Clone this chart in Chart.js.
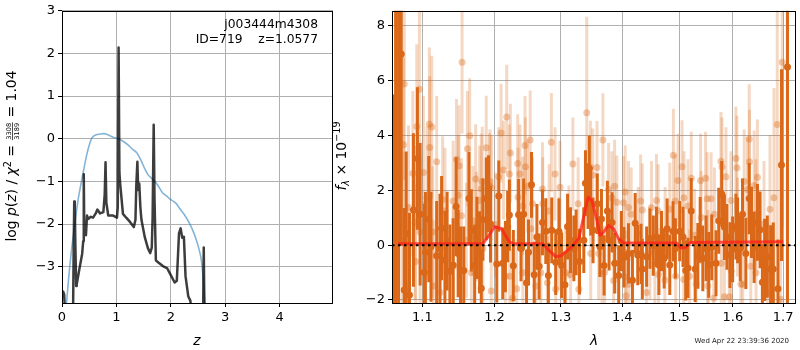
<!DOCTYPE html>
<html>
<head>
<meta charset="utf-8">
<script src="https://cdn.jsdelivr.net/npm/chart.js@4.4.1/dist/chart.umd.min.js"></script>
<style>
  body { margin: 0; background: #fff; width: 800px; height: 350px; position: relative; overflow: hidden; }
  #pz { position: absolute; left: 0; top: 0; }
  #spec { position: absolute; left: 330px; top: 0; }
</style>
</head>
<body>
<canvas id="pz" width="340" height="350"></canvas>
<canvas id="spec" width="470" height="350"></canvas>
<script>
// ---- p(z) panel ----
const zTicks = [0, 1, 2, 3, 4];
const logpTicks = [-3, -2, -1, 0, 1, 2, 3];

const pzZ = [0.0, 0.02, 0.04, 0.06, 0.2, 0.215, 0.225, 0.235, 0.245, 0.26, 0.27, 0.32, 0.37, 0.39, 0.40, 0.41, 0.44, 0.46,
  0.48, 0.53, 0.57, 0.62, 0.65, 0.7, 0.76, 0.785, 0.80, 0.815, 0.85, 0.94, 1.01, 1.025, 1.04, 1.055, 1.07, 1.12,
  1.18, 1.25, 1.32, 1.35, 1.365, 1.385, 1.40, 1.42, 1.44, 1.46, 1.52, 1.58, 1.62, 1.65, 1.665, 1.685, 1.70, 1.725,
  1.77, 1.86, 1.93, 1.98, 2.07, 2.11, 2.15, 2.18, 2.21, 2.24, 2.27, 2.32, 2.36, 2.39, 2.59, 2.605, 2.62];
const pzLogp = [-3.6, -3.58, -3.65, -4.2, -4.5, -2.5, -1.47, -1.55, -2.45, -3.45, -3.42, -3.05, -2.7, -2.4, -0.83, -2.2, -2.26, -1.8,
  -1.88, -1.83, -1.85, -1.75, -1.66, -1.75, -1.72, -1.3, -0.55, -1.5, -1.8, -1.8, -1.85, -1.6, 2.14, -0.8, -1.07, -1.76,
  -1.85, -1.95, -2.07, -1.9, -1.1, -0.54, -1.2, -1.05, -1.6, -1.9, -2.3, -2.57, -2.68, -2.55, -1.85, 0.33, -1.4, -2.85,
  -2.9, -2.99, -3.03, -3.15, -3.37, -3.33, -2.22, -2.1, -2.32, -2.3, -3.22, -3.69, -3.8, -4.5, -4.5, -2.55, -4.5];

const priorZ = [0.08, 0.12, 0.15, 0.2, 0.25, 0.3, 0.35, 0.4, 0.45, 0.5, 0.55, 0.62, 0.7, 0.77, 0.85, 0.95, 1.03, 1.1, 1.2,
  1.3, 1.37, 1.45, 1.52, 1.58, 1.65, 1.75, 1.85, 1.92, 1.98, 2.05, 2.1, 2.16, 2.25, 2.35, 2.42, 2.47, 2.52, 2.56, 2.6, 2.63];
const priorLogp = [-3.9, -3.3, -2.9, -2.35, -1.85, -1.4, -1.05, -0.72, -0.4, -0.15, 0.02, 0.09, 0.11, 0.12, 0.09, 0.03, 0.0, -0.04, -0.13,
  -0.25, -0.32, -0.5, -0.7, -0.84, -0.93, -1.07, -1.27, -1.34, -1.41, -1.47, -1.52, -1.63, -1.78, -2.0, -2.2, -2.38, -2.6, -2.84, -3.37, -3.95];

const fieldName = 'j003444m4308';
const objId = 719;
const zBest = '1.0577';

// ---- spectrum panel ----
const waveTicks = [1.1, 1.2, 1.3, 1.4, 1.5, 1.6, 1.7];
const fluxTicks = [-2, 0, 2, 4, 6, 8];

const darkWave = [1.0625, 1.0650, 1.0688, 1.0723, 1.0762, 1.0787, 1.0830, 1.0882, 1.0934, 1.0970, 1.1026, 1.1040, 1.1085, 1.1115,
  1.1191, 1.1236, 1.1258, 1.1303, 1.1333, 1.1371, 1.1416, 1.1457, 1.1485, 1.1518, 1.1563, 1.1636, 1.1669, 1.1716, 1.1748,
  1.1786, 1.1810, 1.1833, 1.1881, 1.1914, 1.1942, 1.2033, 1.2062, 1.2120, 1.2159, 1.2192, 1.2217, 1.2276, 1.2354, 1.2390,
  1.2429, 1.2473, 1.2503, 1.2548, 1.2589, 1.2630, 1.2664, 1.2715, 1.2766, 1.2806, 1.2858, 1.2920, 1.2971, 1.3013, 1.3064,
  1.3106, 1.3153, 1.3206, 1.3242, 1.3296, 1.3365, 1.3392, 1.3434, 1.3455, 1.3477, 1.3515, 1.3584, 1.3627, 1.3653, 1.3697,
  1.3751, 1.3779, 1.3829, 1.3873, 1.3940, 1.3984, 1.4030, 1.4105, 1.4173, 1.4220, 1.4264, 1.4321, 1.4343, 1.4418, 1.4475,
  1.4534, 1.4591, 1.4633, 1.4679, 1.4726, 1.4779, 1.4826, 1.4885, 1.4926, 1.5005, 1.5065, 1.5114, 1.5155, 1.5215, 1.5288,
  1.5337, 1.5380, 1.5429, 1.5490, 1.5540, 1.5596, 1.5677, 1.5728, 1.5785, 1.5836, 1.5885, 1.5943, 1.5994, 1.6058, 1.6090,
  1.6142, 1.6186, 1.6251, 1.6317, 1.6362, 1.6415, 1.6480, 1.6533, 1.6579, 1.6624, 1.6678, 1.6744, 1.6798, 1.6893, 1.6966, 1.7088];
const darkFlux = [1.5, 2.0, 2.7, 6.97, -1.64, 0.42, -1.82, 1.28, 3.16, 1.13, -0.99, -0.26, 0.95, -0.06,
  -0.39, -0.12, 0.62, -0.54, 0.15, -0.95, -0.72, 1.41, -0.3, -0.92, -0.92, 1.7, 0.54, -0.75, 0.27,
  -0.26, -1.57, 0.93, 1.7, 1.88, 0.77, -0.69, 1.79, -0.66, -0.42, 0.68, 1.1, -0.75, 1.11, -0.12,
  1.13, -1.37, -0.26, 2.2, -1.08, 0.3, -0.77, 0.83, 0.51, -1.11, 0.54, -0.62, 0.5, -0.74, -1.44,
  0.68, 0.18, -0.12, 0.1, -0.6, 0.18, 2.26, 1.79, 2.8, 1.55, 0.54, 1.51, -0.06, 0.95, -0.74,
  1.25, 0.18, 0.83, -0.66, -1.11, 0.15, -0.44, -0.3, -1.28, 0.8, -0.36, -0.32, -0.87, -0.42, 0.24,
  -0.02, 0.3, -0.72, 0.15, -0.48, 0.6, -0.72, 0.5, -0.12, 0.51, 0.3, -0.92, -0.83, 1.25, -0.87,
  -0.39, 0.56, -0.48, -0.12, -0.72, -0.08, -0.66, 0.89, 1.87, 0.66, 0.3, -0.36, -0.15, 0.68, 0.54,
  -0.12, 1.13, -0.3, 1.7, 0.83, -0.08, 0.83, 0.56, -1.35, -0.54, -0.42, -0.87, -0.87, -1.59, 2.92, 6.5];
const darkErr = [4.0, 9.0, 9.0, 7.0, 3.0, 3.0, 3.0, 2.8, 2.6, 2.6, 2.5, 2.2, 2.3, 2.0,
  2.0, 2.0, 1.9, 1.8, 1.8, 1.7, 1.7, 1.8, 1.6, 1.6, 1.6, 1.7, 1.5, 1.5, 1.5,
  1.5, 1.4, 1.5, 1.5, 1.4, 1.4, 1.4, 1.3, 1.3, 1.3, 1.3, 1.3, 1.3, 1.3, 1.2,
  1.3, 1.2, 1.2, 1.2, 1.2, 1.2, 1.2, 1.2, 1.2, 1.2, 1.2, 1.2, 1.2, 1.2, 1.2,
  1.2, 1.2, 1.2, 1.2, 1.2, 1.2, 1.2, 1.2, 1.2, 1.2, 1.2, 1.1, 1.1, 1.1, 1.1,
  1.1, 1.1, 1.1, 1.1, 1.1, 1.1, 1.1, 1.1, 1.1, 1.1, 1.1, 1.1, 1.1, 1.1, 1.1,
  1.1, 1.1, 1.1, 1.1, 1.1, 1.1, 1.1, 1.1, 1.1, 1.1, 1.1, 1.1, 1.1, 1.2, 1.2,
  1.2, 1.2, 1.2, 1.2, 1.2, 1.2, 1.2, 1.2, 1.2, 1.2, 1.2, 1.2, 1.2, 1.2, 1.2,
  1.2, 1.3, 1.3, 1.3, 1.3, 1.3, 1.4, 1.4, 1.4, 1.5, 1.5, 1.6, 1.7, 1.8, 3.5, 12];

const lightWave = [1.0732, 1.0753, 1.0762, 1.0796, 1.0817, 1.0874, 1.0904, 1.0910, 1.0926, 1.0961, 1.0970, 1.1014, 1.1020,
  1.1060, 1.1093, 1.1098, 1.1125, 1.1138, 1.1146, 1.1191, 1.1236, 1.1272, 1.1303, 1.1416, 1.1420, 1.1462, 1.1485, 1.1498,
  1.1531, 1.1540, 1.1600, 1.1614, 1.1646, 1.1670, 1.1692, 1.1730, 1.1740, 1.1786, 1.1810, 1.1824, 1.1833, 1.1881, 1.1928,
  1.1935, 1.1953, 1.1958, 1.2014, 1.2062, 1.2096, 1.2130, 1.2159, 1.2178, 1.2217, 1.2222, 1.2232, 1.2266, 1.2325, 1.2340,
  1.2345, 1.2375, 1.2414, 1.2418, 1.2450, 1.2455, 1.2488, 1.2528, 1.2539, 1.2563, 1.2614, 1.2690, 1.2715, 1.2720, 1.2791,
  1.2817, 1.2852, 1.2909, 1.2920, 1.2971, 1.2987, 1.3075, 1.3127, 1.3154, 1.3190, 1.3274, 1.3285, 1.3413, 1.3472, 1.3477,
  1.3510, 1.3580, 1.3607, 1.3661, 1.3677, 1.3705, 1.3771, 1.3826, 1.3854, 1.3871, 1.3909, 1.4021, 1.4050, 1.4055, 1.4065,
  1.4105, 1.4110, 1.4151, 1.4274, 1.4313, 1.4343, 1.4416, 1.4475, 1.4503, 1.4562, 1.4590, 1.4620, 1.4625, 1.4738, 1.4743,
  1.4826, 1.4891, 1.4926, 1.4931, 1.4975, 1.5047, 1.5078, 1.5083, 1.5155, 1.5186, 1.5215, 1.5277, 1.5306, 1.5387, 1.5398,
  1.5480, 1.5510, 1.5522, 1.5527, 1.5584, 1.5634, 1.5647, 1.5771, 1.5776, 1.5790, 1.5836, 1.5866, 1.5931, 1.5962, 1.5967,
  1.6057, 1.6077, 1.6090, 1.6154, 1.6190, 1.6219, 1.6283, 1.6317, 1.6322, 1.6348, 1.6415, 1.6447, 1.6452, 1.6480, 1.6612,
  1.6678, 1.6732, 1.6812, 1.6879, 1.6946, 1.6980];
const lightFlux = [0.18, 3.66, 5.88, -1.49, 1.37, 2.62, 0.83, -0.6, 4.33, 5.69, 0.48, 2.65, -1.01,
  1.73, 4.41, 3.56, 4.31, 0.48, -1.49, 3.04, -1.73, 1.67, 1.25, 1.61, -0.77, 3.13, 1.82, 2.9,
  1.07, 6.67, 0.18, 3.52, 3.99, -1.01, 0.89, 2.41, 0.68, 1.63, 2.06, 2.32, -0.12, 3.55, 2.18,
  2.32, -1.67, 2.09, 0.75, 2.5, 4.09, 2.74, -1.13, 4.68, 2.6, -1.13, 3.36, -1.94, -1.59, 2.98,
  1.75, 2.6, 1.43, -1.01, 3.64, 2.86, 2.15, 3.84, 0.6, 1.51, -1.49, -1.01, 2.05, 1.51, -1.37,
  1.25, 3.75, 2.6, -1.61, 0.06, 2.11, -1.01, 0.48, -1.07, 2.96, 1.51, -1.61, 4.83, 2.84, -0.3,
  2.56, 2.83, -0.3, -1.04, 3.84, -0.99, 2.03, 1.73, -1.29, 2.15, 1.57, 1.55, 1.94, -1.17, -1.85,
  1.37, -1.43, 1.13, 0.42, 1.61, 1.28, -1.73, -0.3, 1.37, -0.66, 1.63, 1.25, -1.07, -1.28, 0.42,
  1.31, 3.28, 1.61, -1.13, 2.36, 2.86, -1.25, 1.73, 1.43, -1.13, 2.44, 0.36, -1.43, 2.36, 1.01,
  2.44, 1.69, -1.49, -0.42, 1.69, -1.94, 1.13, 3.06, -0.66, 2.86, -1.88, 2.5, -1.88, 1.63, -0.95,
  3.16, 2.82, 0.66, -1.43, -1.43, 2.32, 2.03, 3.87, 3.04, -0.77, 2.18, 1.13, -1.01, 2.48, 0.77,
  -1.73, 1.31, 1.73, 4.4, -1.97, 6.67];
const lightErr = [3.2, 3.2, 3.5, 3.0, 3.0, 3.0, 2.8, 2.8, 3.0, 3.0, 2.8, 2.8, 2.6,
  2.6, 2.8, 2.6, 2.6, 2.4, 2.4, 2.4, 2.3, 2.3, 2.3, 2.2, 2.2, 2.2, 2.2, 2.2,
  2.1, 2.6, 2.1, 2.1, 2.1, 2.0, 2.0, 2.0, 2.0, 2.0, 2.0, 2.0, 2.0, 1.9, 1.9,
  1.9, 1.9, 1.9, 1.9, 1.8, 1.8, 1.8, 1.8, 1.9, 1.8, 1.8, 1.8, 1.8, 1.8, 1.8,
  1.8, 1.8, 1.8, 1.8, 1.8, 1.8, 1.7, 1.8, 1.7, 1.7, 1.7, 1.7, 1.7, 1.7, 1.7,
  1.7, 1.8, 1.7, 1.7, 1.7, 1.7, 1.7, 1.7, 1.7, 1.7, 1.7, 1.7, 3.5, 1.7, 1.7,
  1.7, 1.7, 1.7, 1.7, 1.7, 1.7, 1.7, 1.7, 1.7, 1.7, 1.7, 1.7, 1.7, 1.7, 1.7,
  1.7, 1.7, 1.7, 1.7, 1.7, 1.7, 1.7, 1.7, 1.7, 1.7, 1.7, 1.7, 1.7, 1.7, 1.7,
  1.7, 1.7, 1.7, 1.7, 1.7, 1.7, 1.7, 1.7, 1.7, 1.7, 1.7, 1.7, 1.7, 1.7, 1.7,
  1.7, 1.7, 1.7, 1.7, 1.7, 1.7, 1.7, 1.8, 1.7, 1.8, 1.7, 1.8, 1.7, 1.8, 1.7,
  1.9, 1.9, 1.8, 1.8, 1.8, 1.9, 1.9, 2.0, 1.9, 1.9, 2.0, 2.0, 2.0, 2.1, 2.3,
  2.5, 2.7, 4.0, 4.5, 6.0, 6.0];

const modelWave = [1.068, 1.183, 1.192, 1.200, 1.210, 1.2217, 1.228, 1.272, 1.282, 1.292, 1.300, 1.310, 1.317, 1.3285, 1.336,
  1.3434, 1.3498, 1.358, 1.3627, 1.366, 1.3771, 1.3854, 1.3937, 1.4021, 1.495, 1.503, 1.512, 1.520, 1.700];
const modelFlux = [0.05, 0.05, 0.35, 0.67, 0.6, 0.12, 0.05, 0.05, -0.2, -0.42, -0.39, -0.2, -0.06, 0.25, 1.0,
  1.75, 1.61, 0.9, 0.36, 0.4, 0.72, 0.6, 0.24, 0.08, 0.08, -0.1, -0.08, 0.1, 0.12];

const timeStamp = 'Wed Apr 22 23:39:36 2020';

Chart.defaults.font.family = "'DejaVu Sans', sans-serif";
Chart.defaults.font.size = 13;
Chart.defaults.color = '#000';

const FONT = "'DejaVu Sans', sans-serif";
const ORANGE = '218,104,24';

const pts = (xs, ys) => xs.map((x, i) => ({ x: x, y: ys[i] }));
const fmt = v => (v < 0 ? '\u2212' + Math.abs(v) : String(v));

function axisOpts(extra) {
    return Object.assign({
        grid: { color: '#b0b0b0', lineWidth: 1, tickColor: '#000', tickLength: 4 },
        border: { display: false },
        ticks: { color: '#000', padding: 3, callback: v => fmt(v) }
    }, extra);
}

// spines on all four sides, drawn over the data like matplotlib
const frame = {
    id: 'frame',
    afterDatasetsDraw(chart) {
        const { ctx, chartArea: a } = chart;
        ctx.save();
        ctx.strokeStyle = '#000';
        ctx.lineWidth = 1;
        ctx.strokeRect(Math.round(a.left) + 0.5, Math.round(a.top) + 0.5,
            Math.round(a.right - a.left) - 1, Math.round(a.bottom - a.top));
        ctx.restore();
    }
};

// vertical error bars, drawn just before each dataset's own points
const errorBars = {
    id: 'errorBars',
    beforeDatasetDraw(chart, args) {
        const ds = chart.data.datasets[args.index];
        if (!ds.errors) return;
        const { ctx, chartArea: a, scales: { x, y } } = chart;
        ctx.save();
        ctx.beginPath();
        ctx.rect(a.left, a.top, a.right - a.left, a.bottom - a.top);
        ctx.clip();
        ctx.strokeStyle = ds.barColor;
        ctx.lineWidth = 3;
        ds.data.forEach((p, i) => {
            const px = x.getPixelForValue(p.x);
            ctx.beginPath();
            ctx.moveTo(px, y.getPixelForValue(p.y - ds.errors[i]));
            ctx.lineTo(px, y.getPixelForValue(p.y + ds.errors[i]));
            ctx.stroke();
        });
        ctx.restore();
    }
};

// draw a row of text pieces centred on x = 0 (used for the math-style axis labels)
function drawPieces(ctx, pieces) {
    let total = 0;
    pieces.forEach(p => {
        ctx.font = p.font;
        if (p.frac) {
            p.w = Math.max(ctx.measureText(p.frac[0]).width, ctx.measureText(p.frac[1]).width) + 2;
        } else {
            p.w = ctx.measureText(p.t).width;
        }
        total += p.w;
    });
    let x = -total / 2;
    ctx.textAlign = 'left';
    pieces.forEach(p => {
        ctx.font = p.font;
        if (p.frac) {
            const cx = x + p.w / 2;
            ctx.textAlign = 'center';
            ctx.fillText(p.frac[0], cx, -4.6);
            ctx.fillText(p.frac[1], cx, 2.8);
            ctx.fillRect(x + 0.5, -3.9, p.w - 1, 0.7);
            ctx.textAlign = 'left';
        } else {
            ctx.fillText(p.t, x, p.dy || 0);
        }
        x += p.w;
    });
}

const pzText = {
    id: 'pzText',
    afterDraw(chart) {
        const ctx = chart.ctx;
        ctx.save();
        ctx.fillStyle = '#000';
        ctx.textBaseline = 'alphabetic';
        ctx.font = '12.3px ' + FONT;
        ctx.textAlign = 'right';
        ctx.fillText(fieldName, 318, 28);
        ctx.fillText('ID=' + objId + '    z=' + zBest, 318, 43);

        ctx.textAlign = 'center';
        ctx.font = 'italic 13.9px ' + FONT;
        ctx.fillText('z', 197, 345);

        const n = '13.9px ' + FONT, it = 'italic 13.9px ' + FONT;
        ctx.translate(16, 156);
        ctx.rotate(-Math.PI / 2);
        drawPieces(ctx, [
            { t: 'log ', font: n }, { t: 'p', font: it }, { t: '(', font: n }, { t: 'z', font: it },
            { t: ') / ', font: n }, { t: '\u03c7', font: it }, { t: '2', font: '9.7px ' + FONT, dy: -5.5 },
            { t: ' = ', font: n }, { frac: ['3308', '3189'], font: '6.6px ' + FONT }, { t: ' = 1.04', font: n }
        ]);
        ctx.restore();
    }
};

const specText = {
    id: 'specText',
    afterDraw(chart) {
        const ctx = chart.ctx;
        ctx.save();
        ctx.fillStyle = '#000';
        ctx.textAlign = 'center';
        ctx.font = 'italic 13.9px ' + FONT;
        ctx.fillText('\u03bb', 264, 345);

        ctx.font = '7px ' + FONT;
        ctx.textAlign = 'right';
        ctx.fillStyle = '#222';
        ctx.fillText(timeStamp, 459, 343);

        ctx.fillStyle = '#000';
        const n = '13.9px ' + FONT, small = '9.7px ' + FONT;
        ctx.translate(16, 156);
        ctx.rotate(-Math.PI / 2);
        drawPieces(ctx, [
            { t: 'f', font: 'italic 13.9px ' + FONT }, { t: '\u03bb', font: 'italic ' + small, dy: 3 },
            { t: ' \u00d7 10', font: n }, { t: '\u221219', font: small, dy: -6 }
        ]);
        ctx.restore();
    }
};

new Chart(document.getElementById('pz'), {
    type: 'scatter',
    data: {
        datasets: [
            {
                data: pts(pzZ, pzLogp), showLine: true, pointRadius: 0,
                borderColor: 'rgba(0,0,0,0.76)', borderWidth: 2.5, borderJoinStyle: 'round'
            },
            {
                data: pts(priorZ, priorLogp), showLine: true, pointRadius: 0,
                borderColor: 'rgba(31,119,180,0.55)', borderWidth: 1.6, cubicInterpolationMode: 'monotone', tension: 0.4
            }
        ]
    },
    options: {
        responsive: false,
        animation: false,
        events: [],
        layout: { padding: { top: 6, right: 7, left: 0, bottom: 0 } },
        plugins: { legend: { display: false }, tooltip: { enabled: false } },
        scales: {
            x: axisOpts({
                type: 'linear', min: 0, max: 4.98,
                afterBuildTicks: s => { s.ticks = zTicks.map(v => ({ value: v })); },
                afterFit: s => { s.height = 47; }
            }),
            y: axisOpts({
                type: 'linear', min: -3.85, max: 3,
                afterBuildTicks: s => { s.ticks = logpTicks.map(v => ({ value: v })); },
                afterFit: s => { s.width = 62; }
            })
        }
    },
    plugins: [frame, pzText]
});

new Chart(document.getElementById('spec'), {
    type: 'scatter',
    data: {
        datasets: [
            {
                data: [{ x: 1.0604, y: 0 }, { x: 1.7265, y: 0 }], showLine: true, pointRadius: 0,
                borderColor: '#000', borderWidth: 2, borderDash: [2.5, 3.5]
            },
            {
                data: pts(modelWave, modelFlux), showLine: true, pointRadius: 0,
                borderColor: 'rgba(255,30,25,0.75)', borderWidth: 3, borderJoinStyle: 'round'
            },
            {
                data: pts(darkWave, darkFlux), errors: darkErr, barColor: 'rgb(' + ORANGE + ')',
                pointRadius: 3.5, pointBorderWidth: 0, pointBackgroundColor: 'rgb(' + ORANGE + ')'
            },
            {
                data: pts(lightWave, lightFlux), errors: lightErr, barColor: 'rgba(' + ORANGE + ',0.26)',
                pointRadius: 3.5, pointBorderWidth: 0, pointBackgroundColor: 'rgba(' + ORANGE + ',0.36)'
            }
        ]
    },
    options: {
        responsive: false,
        animation: false,
        events: [],
        layout: { padding: { top: 6, right: 2, left: 0, bottom: 0 } },
        plugins: { legend: { display: false }, tooltip: { enabled: false } },
        scales: {
            x: axisOpts({
                type: 'logarithmic', min: 1.0604, max: 1.7265,
                afterBuildTicks: s => { s.ticks = waveTicks.map(v => ({ value: v })); },
                ticks: { color: '#000', padding: 3, callback: v => Number(v).toFixed(1) },
                afterFit: s => { s.height = 47; }
            }),
            y: axisOpts({
                type: 'linear', min: -2.11, max: 8.55,
                afterBuildTicks: s => { s.ticks = fluxTicks.map(v => ({ value: v })); },
                afterFit: s => { s.width = 62; }
            })
        }
    },
    plugins: [errorBars, frame, specText]
});
</script>
</body>
</html>
